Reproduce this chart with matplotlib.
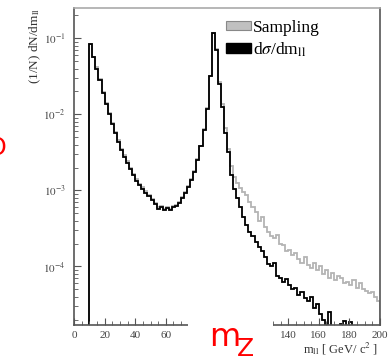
import numpy as np
import matplotlib
matplotlib.use("Agg")
import matplotlib.pyplot as plt
from matplotlib.patches import Patch, Rectangle

# Histogram: 2 GeV bins from 10 to 200 GeV (bin centres 11..199)
bin_lo, bin_hi, bin_w = 10, 200, 2
# log10 of (1/N) dN/dm
black_log10 = [
    -1.08, -1.25, -1.40, -1.55, -1.72, -1.87, -2.00, -2.13, -2.25, -2.36,   # 11-29
    -2.47, -2.56, -2.64, -2.72, -2.80, -2.87, -2.93, -2.98, -3.03, -3.08,   # 31-49
    -3.13, -3.18, -3.24, -3.22, -3.26, -3.23, -3.26, -3.22, -3.20, -3.16,   # 51-69
    -3.10, -3.03, -2.95, -2.86, -2.76, -2.60, -2.42, -2.20, -1.93, -1.50,   # 71-89
    -0.93, -1.15, -1.60, -1.90, -2.25, -2.50, -2.80, -2.98, -3.10, -3.22,   # 91-109
    -3.35, -3.45, -3.55, -3.60, -3.68, -3.75, -3.80, -3.88, -3.97, -4.00,   # 111-129
    -3.95, -4.12, -4.15, -4.20, -4.17, -4.25, -4.30, -4.28, -4.37, -4.33,   # 131-149
    -4.42, -4.45, -4.40, -4.55, -4.50, -4.62, -4.70, -4.90, -4.60, -5.00,   # 151-169
    -4.85, -5.00, -4.75, -4.72, -5.00, -4.73, -6.00, -6.00, -6.00, -6.00,   # 171-189
    -6.00, -6.00, -6.00, -6.00, -6.00,                                     # 191-199
]
gray_log10 = [
    -1.07, -1.24, -1.38, -1.53, -1.70, -1.85, -1.98, -2.11, -2.23, -2.34,
    -2.45, -2.54, -2.62, -2.70, -2.78, -2.85, -2.91, -2.96, -3.01, -3.06,
    -3.11, -3.17, -3.22, -3.21, -3.25, -3.22, -3.25, -3.21, -3.19, -3.15,
    -3.09, -3.02, -2.94, -2.85, -2.75, -2.59, -2.41, -2.19, -1.92, -1.49,
    -0.93, -1.14, -1.58, -1.86, -2.18, -2.45, -2.68, -2.82, -2.90, -2.97,
    -3.02, -3.06, -3.15, -3.22, -3.28, -3.40, -3.35, -3.48, -3.55, -3.60,
    -3.63, -3.58, -3.70, -3.72, -3.80, -3.78, -3.85, -3.82, -3.90, -3.95,
    -3.88, -3.98, -4.02, -3.95, -4.05, -4.00, -4.10, -4.05, -4.15, -4.08,
    -4.18, -4.12, -4.15, -4.22, -4.20, -4.25, -4.18, -4.28, -4.22, -4.30,
    -4.32, -4.35, -4.33, -4.40, -4.45,
]
xticks_shown = [0, 20, 40, 60, 140, 160, 180, 200]
yticks = [1e-4, 1e-3, 1e-2, 1e-1]
ytick_labels = [r"$10^{-4}$", r"$10^{-3}$", r"$10^{-2}$", r"$10^{-1}$"]

edges = np.arange(bin_lo, bin_hi + bin_w, bin_w)
black = 10.0 ** np.array(black_log10)
gray = 10.0 ** np.array(gray_log10)

plt.rcParams["font.family"] = ["Liberation Serif", "DejaVu Serif"]
plt.rcParams["mathtext.fontset"] = "stix"

W, H = 392, 358
fig = plt.figure(figsize=(W / 100, H / 100), dpi=100)
ax = fig.add_axes([74 / W, 1 - 325 / H, (380 - 74) / W, (325 - 8) / H])

ax.stairs(gray, edges, baseline=1e-7, color="#b4b4b4", lw=1.3)
ax.stairs(black, edges, baseline=1e-7, color="black", lw=1.3)

ax.set_yscale("log")
ax.set_xlim(0, 200)
ax.set_ylim(1.7e-5, 0.25)

spine_c = "#555555"
for s in ax.spines.values():
    s.set_color(spine_c)
    s.set_linewidth(1.2)
ax.spines["top"].set_color("#aaaaaa")

ax.set_xticks(np.arange(0, 201, 20))
ax.set_xticklabels([str(v) if v in xticks_shown else "" for v in range(0, 201, 20)])
ax.set_xticks(np.arange(0, 201, 5), minor=True)
ax.set_yticks(yticks)
ax.set_yticklabels(ytick_labels)
ax.tick_params(which="both", direction="in", colors=spine_c, labelcolor="#444444",
               labelsize=8, top=False, right=False)
ax.tick_params(which="major", length=5, width=0.8)
ax.tick_params(which="minor", length=3, width=0.6)
ax.tick_params(axis="y", pad=6)
ax.tick_params(axis="x", pad=4)

fig.text(35 / W, 1 - 8 / H, r"(1/N) dN/dm$_{\rm ll}$", rotation=90, ha="center",
         va="top", fontsize=9.5, color="#333333")
fig.text(378 / W, 1 - 349 / H, r"m$_{\rm ll}$ [ GeV/ c$^{2}$ ]", ha="right",
         va="center", fontsize=9, color="#333333")

handles = [Patch(facecolor="#c0c0c0", edgecolor="#888888", lw=0.8, label="Sampling"),
           Patch(facecolor="black", edgecolor="black", label=r"d$\sigma$/dm$_{\rm ll}$")]
ax.legend(handles=handles, loc="upper left", bbox_to_anchor=(142 / 306, 0.995),
          frameon=False, fontsize=12.5, handlelength=1.4, handleheight=0.45,
          handletextpad=0.15, labelspacing=0.25, borderaxespad=0.2)

# annotation overlay
fig.patches.append(Rectangle((188 / W, 0), (273 - 188) / W, 1 - 300 / H,
                             transform=fig.transFigure, facecolor="white",
                             edgecolor="none", zorder=10))
fig.text(209 / W, 1 - 346 / H, "m", color="red", fontsize=23, family="DejaVu Sans",
         ha="left", va="baseline", zorder=11)
fig.text(237 / W, 1 - 356 / H, "Z", color="red", fontsize=18, family="DejaVu Sans",
         ha="left", va="baseline", zorder=11)
fig.text(-3 / W, 1 - 148 / H, "O", color="red", fontsize=17, family="DejaVu Sans",
         ha="center", va="center", zorder=11)

fig.savefig("out.png", dpi=100)
